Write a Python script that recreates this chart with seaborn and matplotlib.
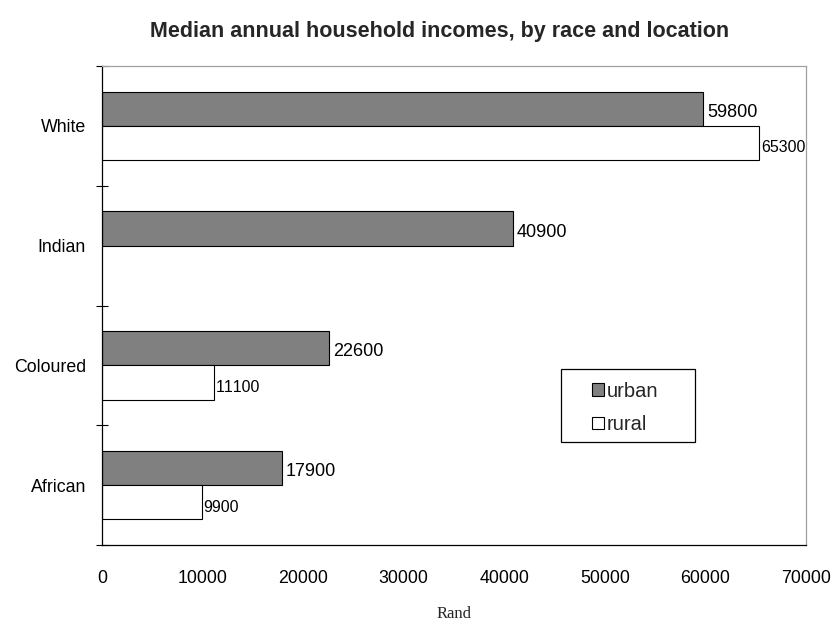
import numpy as np
import pandas as pd
import matplotlib
matplotlib.use("Agg")
import matplotlib.pyplot as plt
from matplotlib.patches import Rectangle
from matplotlib.ticker import FixedLocator
import seaborn as sns

# Median annual household income (Rand), by race and location
races = ["White", "Indian", "Coloured", "African"]
urban = [59800, 40900, 22600, 17900]
rural = [65300, None, 11100, 9900]   # no rural figure for Indian households
locations = ["urban", "rural"]
x_ticks = [0, 10000, 20000, 30000, 40000, 50000, 60000, 70000]

rows = []
for race, u, r in zip(races, urban, rural):
    rows.append({"race": race, "location": "urban", "income": u})
    if r is not None:
        rows.append({"race": race, "location": "rural", "income": r})
df = pd.DataFrame(rows)

sns.set_style("white")
plt.rcParams["font.family"] = ["Liberation Sans", "DejaVu Sans"]
plt.rcParams["text.kerning_factor"] = 6

fig = plt.figure(figsize=(8.31, 6.39), dpi=100)
ax = fig.add_axes([102 / 831, 1 - 545 / 639, 704 / 831, 479 / 639])

sns.barplot(
    data=df, y="race", x="income", hue="location",
    order=races, hue_order=locations, orient="h",
    palette={"urban": "#808080", "rural": "#ffffff"},
    edgecolor="black", linewidth=0.8, width=0.57,
    errorbar=None, legend=False, ax=ax,
)

# value labels at the end of each bar
label_style = {"urban": (13, 2.5, -2.5), "rural": (11.5, 1.5, -3.5)}
for loc, container in zip(locations, ax.containers):
    size, pad, dy = label_style[loc]
    for patch in container.patches:
        w = patch.get_width()
        if not np.isfinite(w) or w == 0:
            continue
        yc = patch.get_y() + patch.get_height() / 2
        ax.annotate(f"{w:.0f}", xy=(w, yc), xytext=(pad, dy),
                    textcoords="offset points", ha="left", va="center",
                    fontsize=size, color="black", annotation_clip=False)

ax.set_xlim(x_ticks[0], x_ticks[-1])
ax.set_ylim(len(races) - 0.5, -0.5)
ax.set_xticks(x_ticks)
ax.set_xticklabels([str(t) for t in x_ticks], fontsize=12.8)
ax.set_yticks(range(len(races)))
ax.set_yticklabels(races, fontsize=12.8)
ax.yaxis.set_minor_locator(FixedLocator(np.arange(-0.5, len(races), 1.0)))

ax.tick_params(axis="x", which="major", direction="inout", length=8.6,
               width=0.8, color="black", pad=13.5, labelcolor="black")
ax.tick_params(axis="y", which="major", length=0, pad=11.5, labelcolor="black")
ax.tick_params(axis="y", which="minor", direction="inout", length=9,
               width=0.8, color="black", left=True)

for side in ("left", "bottom"):
    ax.spines[side].set_color("black")
    ax.spines[side].set_linewidth(0.9)
for side in ("top", "right"):
    ax.spines[side].set_visible(True)
    ax.spines[side].set_color("#a0a0a0")
    ax.spines[side].set_linewidth(0.9)

ax.set_ylabel("")
ax.set_xlabel("Rand", fontsize=12, family=["Liberation Serif", "DejaVu Serif"],
              labelpad=14)

fig.text(440 / 831, 1 - 32 / 639,
         "Median annual household incomes, by race and location",
         ha="center", va="center", fontsize=15.5, fontweight="bold")

# legend with its own rectangular frame
fig.patches.append(Rectangle((561 / 831, 1 - 442 / 639), 134 / 831, 73 / 639,
                             transform=fig.transFigure, facecolor="white",
                             edgecolor="black", linewidth=0.9, zorder=5))
handles = [Rectangle((0, 0), 1, 1, facecolor=c, edgecolor="black", linewidth=0.8)
           for c in ("#808080", "#ffffff")]
fig.legend(handles, locations, loc="center left",
           bbox_to_anchor=(592 / 831, 1 - 408 / 639), frameon=False,
           fontsize=14.5, handlelength=0.6, handleheight=0.6,
           handletextpad=0.15, labelspacing=0.7, borderpad=0,
           borderaxespad=0)

fig.savefig("out.png", dpi=100)
